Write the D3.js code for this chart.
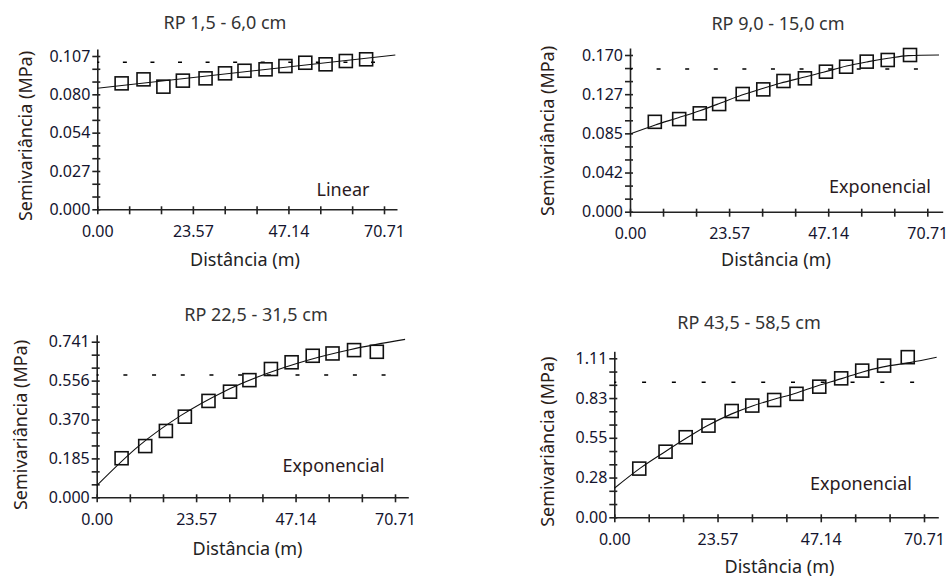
<!DOCTYPE html>
<html>
<head>
<meta charset="utf-8">
<script src="https://cdn.jsdelivr.net/npm/d3@7"></script>
<style>
  body { margin: 0; background: #fff; }
  text { font-family: "Noto Sans", sans-serif; fill: #222; }
  .tick text { font-size: 16px; fill: #14142e; }
  .lab { font-size: 18px; }
</style>
</head>
<body>
<svg id="chart" width="951" height="583"></svg>
<script>
// semivariogramas da resistencia a penetracao, 4 camadas
const titles = ["RP 1,5 - 6,0 cm", "RP 9,0 - 15,0 cm", "RP 22,5 - 31,5 cm", "RP 43,5 - 58,5 cm"];
const modelNames = ["Linear", "Exponencial", "Exponencial", "Exponencial"];

// experimental semivariance (lag in m, gamma in MPa)
const lags1 = [6.0, 11.4, 16.3, 21.1, 26.7, 31.5, 36.3, 41.5, 46.4, 51.3, 56.3, 61.3, 66.3];
const gamma1 = [0.0879, 0.0907, 0.0856, 0.0898, 0.0914, 0.0949, 0.0967, 0.0977, 0.1000, 0.1023, 0.1012, 0.1035, 0.1047];
const lags2 = [5.9, 11.7, 16.6, 21.2, 26.8, 31.7, 36.5, 41.6, 46.6, 51.4, 56.3, 61.3, 66.6];
const gamma2 = [0.0975, 0.1005, 0.1067, 0.1168, 0.1277, 0.1327, 0.1418, 0.1447, 0.1519, 0.1573, 0.1628, 0.1646, 0.1700];
const lags3 = [5.9, 11.5, 16.4, 20.9, 26.5, 31.6, 36.2, 41.3, 46.2, 51.2, 55.9, 61.0, 66.4];
const gamma3 = [0.186, 0.244, 0.316, 0.384, 0.459, 0.503, 0.558, 0.611, 0.643, 0.674, 0.685, 0.701, 0.693];
const lags4 = [5.7, 11.7, 16.3, 21.5, 26.8, 31.5, 36.5, 41.6, 46.8, 51.8, 56.6, 61.6, 67.0];
const gamma4 = [0.340, 0.458, 0.559, 0.640, 0.742, 0.780, 0.819, 0.862, 0.912, 0.970, 1.024, 1.059, 1.118];

// fitted model
const modelDist1 = [0, 73.5];
const model1 = [0.0845, 0.1077];
const modelDist2 = [0, 6, 11.5, 16.6, 21.4, 26.6, 31.7, 35.7, 41, 46, 51.5, 56.7, 61.4, 66.2, 73.5];
const model2 = [0.0843, 0.0941, 0.1020, 0.1096, 0.1176, 0.1266, 0.1339, 0.1393, 0.1455, 0.1512, 0.1581, 0.1628, 0.1664, 0.1693, 0.1700];
const modelDist3 = [0, 10, 20, 30, 40, 50, 60, 73.1];
const model3 = [0.0555, 0.245, 0.390, 0.502, 0.587, 0.653, 0.703, 0.752];
const modelDist4 = [0, 6, 11.6, 16.5, 21.1, 26.8, 31.7, 36.3, 41.6, 46.6, 51.9, 56.7, 61.4, 67.5, 73.6];
const model4 = [0.2025, 0.345, 0.458, 0.553, 0.637, 0.722, 0.779, 0.822, 0.868, 0.920, 0.968, 1.015, 1.050, 1.080, 1.117];

// sample variance (dashed line)
const sills = [0.1026, 0.1548, 0.582, 0.942];

const yTopValues = [0.107, 0.170, 0.741, 1.11];
const yTickLabels = [
  ["0.000", "0.027", "0.054", "0.080", "0.107"],
  ["0.000", "0.042", "0.085", "0.127", "0.170"],
  ["0.000", "0.185", "0.370", "0.556", "0.741"],
  ["0.00", "0.28", "0.55", "0.83", "1.11"]
];
const xTickLabels = ["0.00", "23.57", "47.14", "70.71"];
const xMaxTick = 70.71;

const series = [
  { lags: lags1, gamma: gamma1, mx: modelDist1, my: model1 },
  { lags: lags2, gamma: gamma2, mx: modelDist2, my: model2 },
  { lags: lags3, gamma: gamma3, mx: modelDist3, my: model3 },
  { lags: lags4, gamma: gamma4, mx: modelDist4, my: model4 }
];

// pixel layout of each panel
const panels = [
  { x0: 97.3, xt: 384, xEnd: 397, y0: 209.3, yt: 56, title: [225, 29], xLab: [245, 266], yLab: [32, 136], model: [343, 196] },
  { x0: 630, xt: 927.3, xEnd: 942.7, y0: 211.7, yt: 55, title: [778, 29.5], xLab: [776, 266], yLab: [553.5, 131], model: [880, 193] },
  { x0: 96.7, xt: 395, xEnd: 408.3, y0: 497.3, yt: 341.7, title: [256, 321], xLab: [247.5, 555], yLab: [26.5, 425], model: [333.5, 471.7] },
  { x0: 614.3, xt: 924, xEnd: 938.3, y0: 517.3, yt: 358.3, title: [749, 329], xLab: [779.5, 573], yLab: [553.5, 441.7], model: [861, 490] }
];

function drawChart() {
  const svg = d3.select("#chart");

  panels.forEach((p, i) => {
    const s = series[i];
    const g = svg.append("g");

    // scales run a little past the last tick, like the original axes
    const xDomMax = xMaxTick * (p.xEnd - p.x0) / (p.xt - p.x0);
    const x = d3.scaleLinear().domain([0, xDomMax]).range([p.x0, p.xEnd]);
    const yAxisTop = p.yt - 7;
    const yDomMax = yTopValues[i] * (p.y0 - yAxisTop) / (p.y0 - p.yt);
    const y = d3.scaleLinear().domain([0, yDomMax]).range([p.y0, yAxisTop]);

    const xTicks = d3.range(10).map(k => xMaxTick * k / 9);
    const yTicks = d3.range(13).map(k => yTopValues[i] * k / 12);

    const xAxis = g.append("g")
      .attr("transform", `translate(0,${p.y0})`)
      .call(d3.axisBottom(x).tickValues(xTicks).tickSizeInner(5).tickSizeOuter(0).tickPadding(11)
        .tickFormat((d, k) => k % 3 === 0 ? xTickLabels[k / 3] : ""));
    xAxis.selectAll(".tick line").attr("y1", -3);

    const yAxis = g.append("g")
      .attr("transform", `translate(${p.x0},0)`)
      .call(d3.axisLeft(y).tickValues(yTicks).tickSizeInner(5).tickSizeOuter(0).tickPadding(2)
        .tickFormat((d, k) => k % 3 === 0 ? yTickLabels[i][k / 3] : ""));
    yAxis.selectAll(".tick line").attr("x1", 3);

    g.selectAll(".domain, .tick line").attr("stroke", "#222").attr("stroke-width", 1.6);
    g.selectAll(".tick text").attr("font-family", null).attr("font-size", null);

    // sample variance
    const period = x(6.8) - x(0);
    g.append("line")
      .attr("x1", x(0)).attr("x2", x(xDomMax) - 2)
      .attr("y1", y(sills[i])).attr("y2", y(sills[i]))
      .attr("stroke", "#000").attr("stroke-width", 1.5)
      .attr("stroke-dasharray", `4,${period - 4}`)
      .attr("stroke-dashoffset", 2);

    // model curve
    const line = d3.line()
      .x(d => x(d[0])).y(d => y(d[1]))
      .curve(d3.curveMonotoneX);
    g.append("path")
      .datum(s.mx.map((d, k) => [d, s.my[k]]))
      .attr("d", line)
      .attr("fill", "none")
      .attr("stroke", "#111")
      .attr("stroke-width", 1.1);

    // experimental points
    const sz = 13;
    g.selectAll("rect.pt")
      .data(s.lags.map((d, k) => [d, s.gamma[k]]))
      .enter()
      .append("rect")
      .attr("class", "pt")
      .attr("x", d => x(d[0]) - sz / 2)
      .attr("y", d => y(d[1]) - sz / 2)
      .attr("width", sz).attr("height", sz)
      .attr("fill", "none")
      .attr("stroke", "#111")
      .attr("stroke-width", 1.6);

    g.append("text").attr("class", "lab")
      .attr("x", p.title[0]).attr("y", p.title[1])
      .attr("text-anchor", "middle").style("fill", "#333")
      .text(titles[i]);

    g.append("text").attr("class", "lab")
      .attr("x", p.xLab[0]).attr("y", p.xLab[1])
      .attr("text-anchor", "middle")
      .text("Distância (m)");

    g.append("text").attr("class", "lab")
      .attr("transform", `translate(${p.yLab[0]},${p.yLab[1]}) rotate(-90)`)
      .attr("text-anchor", "middle").style("fill", "#2a2018")
      .text("Semivariância (MPa)");

    g.append("text").attr("class", "lab")
      .attr("x", p.model[0]).attr("y", p.model[1])
      .attr("text-anchor", "middle").style("fill", "#2a1a22")
      .text(modelNames[i]);
  });
}

drawChart();
</script>
</body>
</html>
